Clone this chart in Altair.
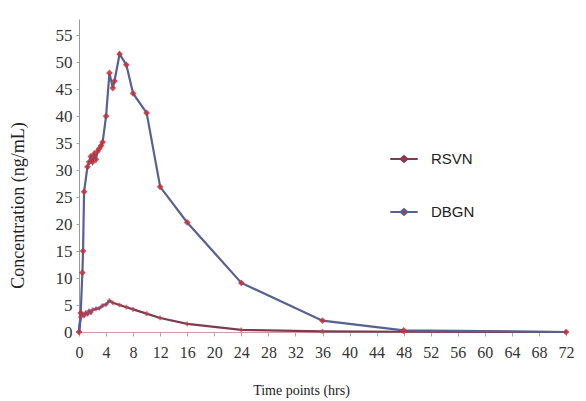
import altair as alt
import pandas as pd

# DBGN time points (hrs) and concentrations (ng/mL)
dbgn_t = [0, 0.25, 0.5, 0.6, 0.75, 1.25, 1.5, 1.75, 2, 2.25, 2.5, 2.75, 3, 3.25, 3.5, 4, 4.5, 5, 5.25, 6, 7, 8, 10, 12, 16, 24, 36, 48, 72]
dbgn_c = [0, 3.5, 11, 15, 26, 30.6, 31.5, 32.5, 31.5, 33, 32, 33.5, 34, 34.5, 35.2, 40, 48, 45.2, 46.5, 51.5, 49.5, 44.2, 40.6, 26.9, 20.3, 9.1, 2.1, 0.3, 0.0]

# RSVN time points (hrs) and concentrations (ng/mL)
rsvn_t = [0, 0.25, 0.5, 0.75, 1, 1.25, 1.5, 1.75, 2, 2.5, 3, 3.5, 4, 4.5, 5, 6, 7, 8, 10, 12, 16, 24, 36, 48, 72]
rsvn_c = [0, 2.8, 3.3, 3.0, 3.6, 3.3, 3.9, 3.6, 4.1, 4.3, 4.4, 4.9, 5.1, 5.8, 5.4, 5.0, 4.6, 4.2, 3.4, 2.6, 1.5, 0.4, 0.1, 0.05, 0.0]

drugs = ["RSVN", "DBGN"]
y_ticks = list(range(0, 60, 5))
x_ticks = list(range(0, 76, 4))

df = pd.concat([
    pd.DataFrame({"time": rsvn_t, "conc": rsvn_c, "drug": "RSVN"}),
    pd.DataFrame({"time": dbgn_t, "conc": dbgn_c, "drug": "DBGN"}),
], ignore_index=True)

serif = "Liberation Serif"

x_enc = alt.X("time:Q",
              scale=alt.Scale(domain=[0, 72], nice=False, zero=True),
              axis=alt.Axis(values=x_ticks, title="Time points (hrs)", grid=False,
                            labelFont=serif, labelFontSize=16, labelColor="#333",
                            labelOverlap=False,
                            titleFont=serif, titleFontSize=14, titleFontWeight="normal",
                            titleColor="#222", titleX=222, titleY=62,
                            titleBaseline="alphabetic",
                            domainColor="#c9a0a0", tickColor="#aaa", tickSize=4,
                            labelPadding=8, labelFlush=False))
y_enc = alt.Y("conc:Q",
              scale=alt.Scale(domain=[0, 58], nice=False),
              axis=alt.Axis(values=y_ticks, title="Concentration (ng/mL)", grid=False,
                            labelFont=serif, labelFontSize=17, labelColor="#333",
                            labelOverlap=False,
                            titleFont=serif, titleFontSize=18, titleFontWeight="normal",
                            titleColor="#222", titleX=-61, titleY=186,
                            titleAlign="center", titleBaseline="middle", titleAngle=270,
                            domainColor="#999", tickColor="#aaa", tickSize=3,
                            labelPadding=4))

color_scale = alt.Scale(domain=drugs, range=["#7d3c4c", "#56628f"])

legend = alt.Legend(title=None, orient="none", legendX=310, legendY=125,
                    labelFont="Liberation Sans", labelFontSize=15, labelColor="#222",
                    symbolType="M-1,0L-0.25,0M0.25,0L1,0M0,-0.22L0.25,0L0,0.22L-0.25,0Z",
                    symbolSize=750, symbolStrokeWidth=2, symbolFillColor="#c0303a",
                    rowPadding=30, labelOffset=12)

lines = alt.Chart(df).mark_line(strokeWidth=2.2).encode(
    x=x_enc, y=y_enc,
    color=alt.Color("drug:N", scale=color_scale, legend=legend),
    order="time:Q",
)

rsvn_early = alt.Chart(df).transform_filter(
    (alt.datum.drug == "RSVN") & (alt.datum.time <= 4.5)
).mark_line(strokeWidth=2.2, color="#4a5cb8").encode(x=x_enc, y=y_enc, order="time:Q")

dbgn_pts = alt.Chart(df).transform_filter(alt.datum.drug == "DBGN").mark_point(
    shape="diamond", filled=True, size=45, color="#c4303c", opacity=0.85
).encode(x=x_enc, y=y_enc)

rsvn_pts = alt.Chart(df).transform_filter(alt.datum.drug == "RSVN").mark_point(
    shape="cross", filled=True, size=22, color="#b84050", opacity=0.7
).encode(x=x_enc, y=y_enc)

chart = alt.layer(lines, rsvn_early, rsvn_pts, dbgn_pts).properties(
    width=487, height=313,
    autosize=alt.AutoSizeParams(type="none"),
    padding={"left": 71, "top": 11, "right": 12, "bottom": 68},
    background="white",
).configure_view(stroke=None)

chart.save("out.html", embed_options={"renderer": "svg", "actions": False})
